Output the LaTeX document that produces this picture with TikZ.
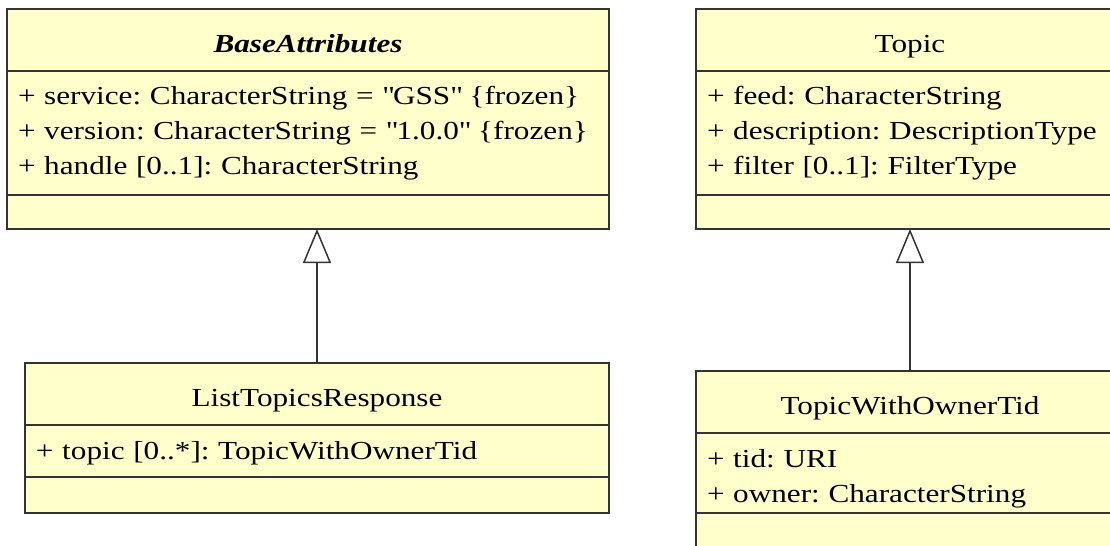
\documentclass[tikz,border=0pt]{standalone}
\usepackage{fontspec}
\setmainfont{Liberation Serif}[FakeStretch=1.2]
\usepackage{tikz}
\usetikzlibrary{positioning, arrows.meta}
\usepackage{xcolor}
\frenchspacing

\definecolor{umlfill}{HTML}{FFFFCC}
\definecolor{umlline}{HTML}{333333}
\newcommand{\upx}{0.75pt}

\tikzset{
  box/.style={draw=umlline, fill=umlfill, line width=1.5*\upx, inner sep=0pt, outer sep=0pt,
    font=\fontsize{19.5}{26.25}\selectfont},
  head/.style={box, minimum width=#1*\upx, minimum height=62*\upx, anchor=north west, align=center,
    text height=18pt, text depth=0pt},
  attrs/.style={box, text width=#1*\upx-22*\upx, inner xsep=11*\upx, align=left},
  ops/.style={box, minimum width=#1*\upx},
  inherit/.style={draw=umlline, line width=1.5*\upx, -{Triangle[open, length=34*\upx, width=28*\upx]}}
}

\begin{document}
\begin{tikzpicture}[x=\upx, y=-\upx, node distance=0pt]
\useasboundingbox (0,0) rectangle (1110,546);

\node[head=602] (base-head) at (7,9) {\textbf{\textit{BaseAttributes}}};
\node[attrs=602, minimum height=124*\upx, below=of base-head] (base-attrs)
  {+ service: CharacterString = \textquotedbl GSS\textquotedbl{} \{frozen\}\\
   + version: CharacterString = \textquotedbl 1.0.0\textquotedbl{} \{frozen\}\\
   + handle [0..1]: CharacterString};
\node[ops=602, minimum height=34*\upx, below=of base-attrs] (base-ops) {};

\node[head=428] (topic-head) at (696,9) {Topic};
\node[attrs=428, minimum height=124*\upx, below=of topic-head] (topic-attrs)
  {+ feed: CharacterString\\
   + description: DescriptionType\\
   + filter [0..1]: FilterType};
\node[ops=428, minimum height=34*\upx, below=of topic-attrs] (topic-ops) {};

\node[head=584] (list-head) at (25,363) {ListTopicsResponse};
\node[attrs=584, minimum height=52*\upx, text depth=1pt, below=of list-head] (list-attrs)
  {+ topic [0..*]: TopicWithOwnerTid};
\node[ops=584, minimum height=36*\upx, below=of list-attrs] (list-ops) {};

\node[head=428] (owner-head) at (696,371) {TopicWithOwnerTid};
\node[attrs=428, minimum height=80*\upx, text depth=22pt, below=of owner-head] (owner-attrs)
  {+ tid: URI\\
   + owner: CharacterString};
\node[ops=428, minimum height=40*\upx, below=of owner-attrs] (owner-ops) {};

% generalisations
\draw[inherit] (list-head.north) -- (list-head.north |- base-ops.south);
\draw[inherit] (owner-head.north) -- (owner-head.north |- topic-ops.south);
\end{tikzpicture}
\end{document}
